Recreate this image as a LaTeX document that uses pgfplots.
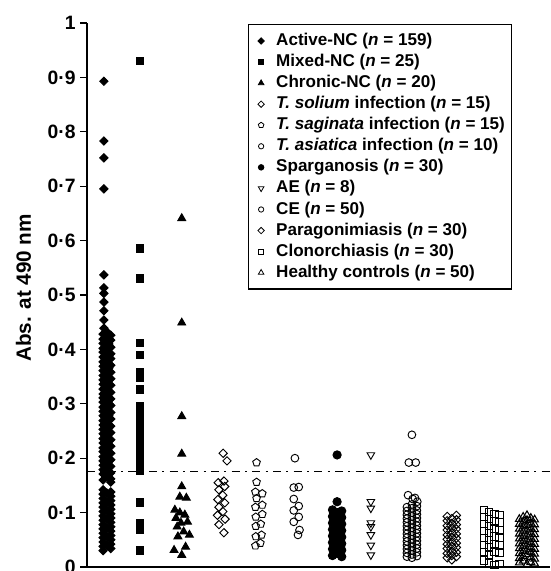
\documentclass[border=0pt]{standalone}
\usepackage{fontspec}
\setmainfont{Liberation Sans}
\usepackage{pgfplots}
\pgfplotsset{compat=1.18}
\usetikzlibrary{plotmarks}
\newcommand\bfs{\bfseries\fontsize{12.8}{15}\selectfont}
\newcommand\bft{\bfseries\fontsize{14.5}{17}\selectfont}
\newcommand\bfl{\bfseries\fontsize{15.5}{18}\selectfont}
\pgfplotsset{
 pt/.style={only marks, draw=black, line width=0.7pt, forget plot},
}
\begin{document}
\begin{tikzpicture}
\useasboundingbox (-65.25pt,-3pt) rectangle (347.25pt,425.25pt);
\begin{axis}[
 at={(0pt,0pt)}, anchor=south west,
 width=347.25pt, height=408pt, scale only axis,
 xmin=0.53, xmax=12.6, ymin=0, ymax=1,
 axis x line=bottom, axis y line=left,
 axis line style={-, line width=0.9pt},
 xtick=\empty,
 ytick={0,0.1,0.2,0.3,0.4,0.5,0.6,0.7,0.8,0.9,1},
 yticklabels={0,0·1,0·2,0·3,0·4,0·5,0·6,0·7,0·8,0·9,1},
 tick align=outside, major tick length=5pt,
 tick style={line width=0.8pt, black},
 yticklabel style={font=\bft},
 ylabel={Abs. at 490 nm},
 ylabel style={font=\bfl, at={(axis description cs:-0.137,0.513)}, anchor=center},
 clip=false,
 legend style={at={(rel axis cs:0.348,0.998)}, anchor=north west, draw=black, line width=0.9pt,
   font=\bfs, nodes={inner sep=0pt, text height=9.6pt, text depth=2.8pt},
   row sep=3.4pt, column sep=7pt, inner xsep=5pt, inner ysep=6pt},
 legend cell align=left,
 legend image code/.code={\path (-4pt,0pt) (4pt,0pt); \draw[#1] plot coordinates {(0pt,0pt)};},
]
% legend images
\addlegendimage{only marks, line width=0.6pt, mark=square*, mark options={rotate=45, fill=black}, mark size=1.7pt}
\addlegendentry{Active-NC (\textit{n} = 159)}
\addlegendimage{only marks, line width=0.6pt, mark=square*, mark options={fill=black}, mark size=2pt}
\addlegendentry{Mixed-NC (\textit{n} = 25)}
\addlegendimage{only marks, line width=0.6pt, mark=triangle*, mark options={fill=black}, mark size=2.4pt}
\addlegendentry{Chronic-NC (\textit{n} = 20)}
\addlegendimage{only marks, line width=0.6pt, mark=square, mark options={rotate=45}, mark size=1.7pt}
\addlegendentry{\textit{T. solium} infection (\textit{n} = 15)}
\addlegendimage{only marks, line width=0.6pt, mark=pentagon, mark size=2.2pt}
\addlegendentry{\textit{T. saginata} infection (\textit{n} = 15)}
\addlegendimage{only marks, line width=0.6pt, mark=o, mark size=2pt}
\addlegendentry{\textit{T. asiatica} infection (\textit{n} = 10)}
\addlegendimage{only marks, line width=0.6pt, mark=*, mark options={fill=black}, mark size=2.1pt}
\addlegendentry{Sparganosis (\textit{n} = 30)}
\addlegendimage{only marks, line width=0.6pt, mark=triangle, mark options={rotate=180}, mark size=2.4pt}
\addlegendentry{AE (\textit{n} = 8)}
\addlegendimage{only marks, line width=0.6pt, mark=o, mark size=2pt}
\addlegendentry{CE (\textit{n} = 50)}
\addlegendimage{only marks, line width=0.6pt, mark=square, mark options={rotate=45}, mark size=1.7pt}
\addlegendentry{Paragonimiasis (\textit{n} = 30)}
\addlegendimage{only marks, line width=0.6pt, mark=square, mark size=1.8pt}
\addlegendentry{Clonorchiasis (\textit{n} = 30)}
\addlegendimage{only marks, line width=0.6pt, mark=triangle, mark size=2.4pt}
\addlegendentry{Healthy controls (\textit{n} = 50)}

% cutoff line
\addplot[black, line width=0.7pt, dash pattern=on 6pt off 4pt on 1.5pt off 4pt, forget plot] coordinates {(0.53,0.175) (12.6,0.175)};

% Active-NC
\addplot[pt, mark=square*, mark options={rotate=45, fill=black}, mark size=2.2pt] coordinates {
(0.97,0.893)(0.97,0.783)(0.97,0.752)(0.97,0.695)(0.97,0.537)(0.97,0.513)(0.97,0.503)(0.97,0.487)(0.97,0.471)(0.97,0.454)(0.97,0.439)
(0.95,0.428)(0.95,0.419)(0.95,0.411)(0.95,0.402)(0.95,0.395)(0.95,0.386)(0.95,0.377)(0.95,0.369)(0.95,0.361)(0.95,0.352)(0.95,0.344)(0.95,0.336)(0.95,0.327)(0.95,0.318)(0.95,0.311)(0.95,0.303)(0.95,0.294)(0.95,0.286)(0.95,0.278)(0.95,0.269)(0.95,0.261)(0.95,0.253)(0.95,0.245)(0.95,0.236)(0.95,0.228)(0.95,0.219)(0.95,0.212)(0.95,0.203)(0.95,0.195)(0.95,0.187)(0.95,0.179)(0.95,0.171)(0.95,0.160)
(1.05,0.432)(1.05,0.424)(1.05,0.414)(1.05,0.407)(1.05,0.398)(1.05,0.390)(1.05,0.381)(1.05,0.373)(1.05,0.365)(1.05,0.356)(1.05,0.348)(1.05,0.340)(1.05,0.331)(1.05,0.323)(1.05,0.315)(1.05,0.307)(1.05,0.298)(1.05,0.290)(1.05,0.282)(1.05,0.274)(1.05,0.265)(1.05,0.257)(1.05,0.249)(1.05,0.240)(1.05,0.232)(1.05,0.224)(1.05,0.215)(1.05,0.207)(1.05,0.199)(1.05,0.191)(1.05,0.183)(1.05,0.175)(1.05,0.166)
(1.15,0.426)(1.15,0.417)(1.15,0.404)(1.15,0.392)(1.15,0.383)(1.15,0.371)(1.15,0.358)(1.15,0.346)(1.15,0.334)(1.15,0.321)(1.15,0.309)(1.15,0.297)(1.15,0.284)(1.15,0.272)(1.15,0.259)(1.15,0.247)(1.15,0.234)(1.15,0.222)(1.15,0.209)(1.15,0.197)(1.15,0.185)(1.15,0.173)(1.15,0.162)(1.15,0.156)
(1.00,0.420)(1.00,0.400)(1.00,0.380)(1.00,0.360)(1.00,0.340)(1.00,0.320)(1.00,0.300)(1.00,0.280)(1.00,0.260)(1.00,0.240)(1.00,0.220)(1.00,0.200)(1.00,0.180)
(1.10,0.410)(1.10,0.388)(1.10,0.366)(1.10,0.344)(1.10,0.322)(1.10,0.300)(1.10,0.278)(1.10,0.256)(1.10,0.234)
(0.95,0.142)(0.95,0.134)(0.95,0.126)(0.95,0.118)(0.95,0.110)(0.95,0.102)(0.95,0.094)(0.95,0.086)(0.95,0.078)(0.95,0.070)(0.95,0.062)(0.95,0.054)(0.95,0.046)(0.95,0.038)(0.95,0.030)
(1.15,0.138)(1.15,0.130)(1.15,0.122)(1.15,0.114)(1.15,0.106)(1.15,0.098)(1.15,0.090)(1.15,0.082)(1.15,0.074)(1.15,0.066)(1.15,0.058)(1.15,0.050)(1.15,0.042)(1.15,0.034)
(1.05,0.136)(1.05,0.120)(1.05,0.104)(1.05,0.088)(1.05,0.072)(1.05,0.056)(1.05,0.040)
};
% Mixed-NC
\addplot[pt, mark=square*, mark options={fill=black}, mark size=2.9pt] coordinates {
(1.91,0.930)(1.91,0.585)(1.91,0.531)(1.91,0.412)(1.91,0.390)(1.91,0.358)(1.91,0.349)(1.91,0.327)(1.91,0.295)(1.91,0.285)(1.91,0.275)(1.91,0.262)(1.91,0.250)(1.91,0.240)(1.91,0.228)(1.91,0.218)(1.91,0.210)(1.91,0.200)(1.91,0.190)(1.91,0.182)(1.91,0.178)(1.91,0.118)(1.91,0.081)(1.91,0.068)(1.91,0.031)
};
% Chronic-NC
\addplot[pt, mark=triangle*, mark options={fill=black}, mark size=3.4pt] coordinates {
(3.0,0.641)(3.0,0.449)(3.0,0.277)(3.0,0.208)
(3.00,0.148)(2.95,0.129)(3.12,0.127)(2.82,0.105)(2.95,0.100)(3.08,0.096)(2.85,0.090)(3.15,0.083)(2.98,0.081)(2.88,0.074)(3.05,0.065)(3.20,0.059)(2.90,0.056)(3.10,0.037)(2.80,0.031)(3.00,0.022)
};
% T. solium
\addplot[pt, mark=square, mark options={rotate=45}, mark size=2.2pt] coordinates {
(4.08,0.209)(4.18,0.195)(4.10,0.158)(3.95,0.155)(4.12,0.148)(3.97,0.142)(4.07,0.132)(3.94,0.124)(4.12,0.118)(3.97,0.110)(4.07,0.102)(3.93,0.095)(4.13,0.088)(3.97,0.078)(4.10,0.063)
};
% T. saginata
\addplot[pt, mark=pentagon, mark size=3pt] coordinates {
(4.95,0.192)(4.95,0.156)(4.92,0.138)(5.10,0.135)(4.95,0.126)(5.10,0.114)(4.92,0.110)(5.10,0.097)(4.93,0.092)(5.06,0.079)(4.93,0.075)(5.08,0.059)(4.93,0.056)(5.05,0.044)(4.92,0.039)
};
% T. asiatica
\addplot[pt, mark=o, mark size=2.9pt] coordinates {
(5.95,0.200)(5.92,0.146)(6.05,0.147)(5.92,0.125)(6.05,0.112)(5.92,0.104)(6.05,0.092)(5.92,0.083)(6.07,0.068)(6.03,0.059)
};
% Sparganosis
\addplot[pt, mark=*, mark options={fill=black}, mark size=3.1pt] coordinates {
(7.05,0.206)(7.05,0.120)
(6.93,0.105)(6.93,0.093)(6.93,0.081)(6.93,0.069)(6.93,0.057)(6.93,0.045)(6.93,0.033)(6.93,0.021)
(7.17,0.103)(7.17,0.091)(7.17,0.079)(7.17,0.067)(7.17,0.055)(7.17,0.043)(7.17,0.031)(7.17,0.019)
(7.05,0.100)(7.05,0.090)(7.05,0.080)(7.05,0.070)(7.05,0.060)(7.05,0.050)(7.05,0.040)(7.05,0.030)(7.05,0.025)(7.05,0.035)(7.05,0.065)(7.05,0.085)
};
% AE
\addplot[pt, mark=triangle, mark options={rotate=180}, mark size=3.3pt] coordinates {
(7.93,0.206)(7.93,0.120)(7.93,0.108)(7.93,0.081)(7.93,0.074)(7.93,0.059)(7.93,0.040)(7.93,0.022)
};
% CE
\addplot[pt, mark=o, mark size=2.9pt] coordinates {
(9.00,0.243)(8.92,0.192)(9.10,0.192)(8.90,0.132)(9.08,0.127)(9.14,0.120)(9.02,0.125)
(8.87,0.110)(8.87,0.103)(8.87,0.096)(8.87,0.089)(8.87,0.082)(8.87,0.075)(8.87,0.068)(8.87,0.061)(8.87,0.054)(8.87,0.047)(8.87,0.040)(8.87,0.033)(8.87,0.026)(8.87,0.019)
(9.00,0.115)(9.00,0.108)(9.00,0.100)(9.00,0.093)(9.00,0.086)(9.00,0.079)(9.00,0.072)(9.00,0.065)(9.00,0.058)(9.00,0.051)(9.00,0.044)(9.00,0.037)(9.00,0.030)(9.00,0.023)(9.00,0.017)
(9.13,0.112)(9.13,0.104)(9.13,0.097)(9.13,0.090)(9.13,0.083)(9.13,0.076)(9.13,0.069)(9.13,0.062)(9.13,0.055)(9.13,0.048)(9.13,0.041)(9.13,0.034)(9.13,0.027)(9.13,0.020)
};
% Paragonimiasis
\addplot[pt, mark=square, mark options={rotate=45}, mark size=2.2pt] coordinates {
(9.92,0.093)(9.92,0.085)(9.92,0.076)(9.92,0.068)(9.92,0.059)(9.92,0.051)(9.92,0.042)(9.92,0.034)(9.92,0.025)(9.92,0.017)
(10.04,0.089)(10.04,0.080)(10.04,0.072)(10.04,0.063)(10.04,0.055)(10.04,0.046)(10.04,0.038)(10.04,0.029)(10.04,0.021)(10.04,0.013)
(10.16,0.095)(10.16,0.087)(10.16,0.078)(10.16,0.070)(10.16,0.061)(10.16,0.053)(10.16,0.044)(10.16,0.036)(10.16,0.027)(10.16,0.019)
};
% Clonorchiasis
\addplot[pt, mark=square, mark size=2.7pt] coordinates {
(10.88,0.105)(10.88,0.092)(10.88,0.079)(10.88,0.066)(10.88,0.053)(10.88,0.040)(10.88,0.027)(10.88,0.012)
(11.01,0.101)(11.01,0.088)(11.01,0.075)(11.01,0.062)(11.01,0.049)(11.01,0.036)(11.01,0.023)(11.01,0.008)
(11.15,0.098)(11.15,0.084)(11.15,0.070)(11.15,0.056)(11.15,0.042)(11.15,0.028)(11.15,0.004)
(11.28,0.096)(11.28,0.082)(11.28,0.068)(11.28,0.054)(11.28,0.040)(11.28,0.026)(11.28,0.005)
};
% Healthy controls
\addplot[pt, mark=triangle, mark size=3.3pt, line width=0.8pt] coordinates {
(11.80,0.088)(11.80,0.079)(11.80,0.070)(11.80,0.061)(11.80,0.052)(11.80,0.043)(11.80,0.034)(11.80,0.025)(11.80,0.016)(11.80,0.008)
(11.90,0.092)(11.90,0.083)(11.90,0.074)(11.90,0.065)(11.90,0.056)(11.90,0.047)(11.90,0.038)(11.90,0.029)(11.90,0.020)(11.90,0.011)
(12.00,0.095)(12.00,0.086)(12.00,0.077)(12.00,0.068)(12.00,0.059)(12.00,0.050)(12.00,0.041)(12.00,0.032)(12.00,0.023)(12.00,0.005)
(12.10,0.090)(12.10,0.081)(12.10,0.072)(12.10,0.063)(12.10,0.054)(12.10,0.045)(12.10,0.036)(12.10,0.027)(12.10,0.018)(12.10,0.009)
(12.20,0.087)(12.20,0.078)(12.20,0.069)(12.20,0.060)(12.20,0.051)(12.20,0.042)(12.20,0.033)(12.20,0.024)(12.20,0.015)(12.20,0.006)
};
\end{axis}
\end{tikzpicture}
\end{document}
